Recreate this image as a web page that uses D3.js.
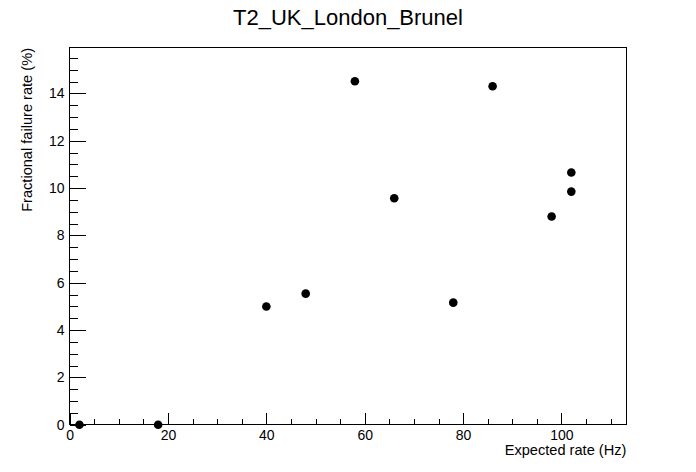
<!DOCTYPE html>
<html>
<head>
<meta charset="utf-8">
<script src="https://cdn.jsdelivr.net/npm/d3@7"></script>
<style>
  html, body { margin: 0; padding: 0; background: #fff; }
  svg { display: block; }
  text { font-family: "Liberation Sans", Arial, Helvetica, sans-serif; fill: #000; }
</style>
</head>
<body>
<svg id="chart" width="696" height="472"></svg>
<script>
const chartTitle = "T2_UK_London_Brunel";
const xTitle = "Expected rate (Hz)";
const yTitle = "Fractional failure rate (%)";
const xValues = [2, 18, 40, 48, 58, 66, 78, 86, 98, 102, 102];
const yValues = [0, 0, 5.0, 5.54, 14.51, 9.57, 5.16, 14.3, 8.8, 10.66, 9.85];
const xDomain = [0, 113.2];
const yDomain = [0, 15.95];
const xMajorTicks = [0, 20, 40, 60, 80, 100];
const xMinorTicks = d3.range(0, 113, 5);
const yMajorTicks = [0, 2, 4, 6, 8, 10, 12, 14];
const yMinorTicks = d3.range(0, 15.95, 0.5);

const W = 696, H = 472;
const m = { left: 69.6, right: 69.6, top: 47.2, bottom: 47.2 };
const fw = W - m.left - m.right, fh = H - m.top - m.bottom;

const svg = d3.select("#chart");
const x = d3.scaleLinear().domain(xDomain).range([m.left, m.left + fw]);
const y = d3.scaleLinear().domain(yDomain).range([m.top + fh, m.top]);

const yMajLen = 0.03 * fw, yMinLen = yMajLen / 2;
const xMajLen = 0.03 * fh, xMinLen = xMajLen / 2;

// frame
svg.append("rect")
  .attr("x", m.left).attr("y", m.top).attr("width", fw).attr("height", fh)
  .attr("fill", "none").attr("stroke", "#000").attr("stroke-width", 1)
  .attr("shape-rendering", "crispEdges");

function styleAxis(g) {
  g.select(".domain").remove();
  g.selectAll("line").attr("stroke", "#000").attr("shape-rendering", "crispEdges");
  g.selectAll("text").style("font-size", "14px").attr("fill", "#000");
}

// x minor ticks
svg.append("g").attr("transform", `translate(0,${m.top + fh})`)
  .call(d3.axisBottom(x).tickValues(xMinorTicks).tickSize(-xMinLen).tickFormat(""))
  .call(styleAxis);
// x major ticks
svg.append("g").attr("transform", `translate(0,${m.top + fh})`)
  .call(d3.axisBottom(x).tickValues(xMajorTicks).tickSize(-xMajLen).tickPadding(5.5).tickFormat(d3.format("d")))
  .call(styleAxis);

// y minor ticks
svg.append("g").attr("transform", `translate(${m.left},0)`)
  .call(d3.axisLeft(y).tickValues(yMinorTicks).tickSize(-yMinLen).tickFormat(""))
  .call(styleAxis);
// y major ticks
svg.append("g").attr("transform", `translate(${m.left},0)`)
  .call(d3.axisLeft(y).tickValues(yMajorTicks).tickSize(-yMajLen).tickPadding(5).tickFormat(d3.format("d")))
  .call(styleAxis);

// points
svg.append("g").selectAll("circle")
  .data(xValues.map((v, i) => [v, yValues[i]]))
  .join("circle")
  .attr("cx", d => x(d[0])).attr("cy", d => y(d[1]))
  .attr("r", 4.3).attr("fill", "#000");

// titles
svg.append("text").attr("x", W / 2).attr("y", 25)
  .attr("text-anchor", "middle").style("font-size", "22px").text(chartTitle);

svg.append("text").attr("x", m.left + fw).attr("y", 455)
  .attr("text-anchor", "end").style("font-size", "14.6px").text(xTitle);

svg.append("text").attr("transform", `translate(32,48) rotate(-90)`)
  .attr("text-anchor", "end").style("font-size", "14.6px").text(yTitle);
</script>
</body>
</html>
